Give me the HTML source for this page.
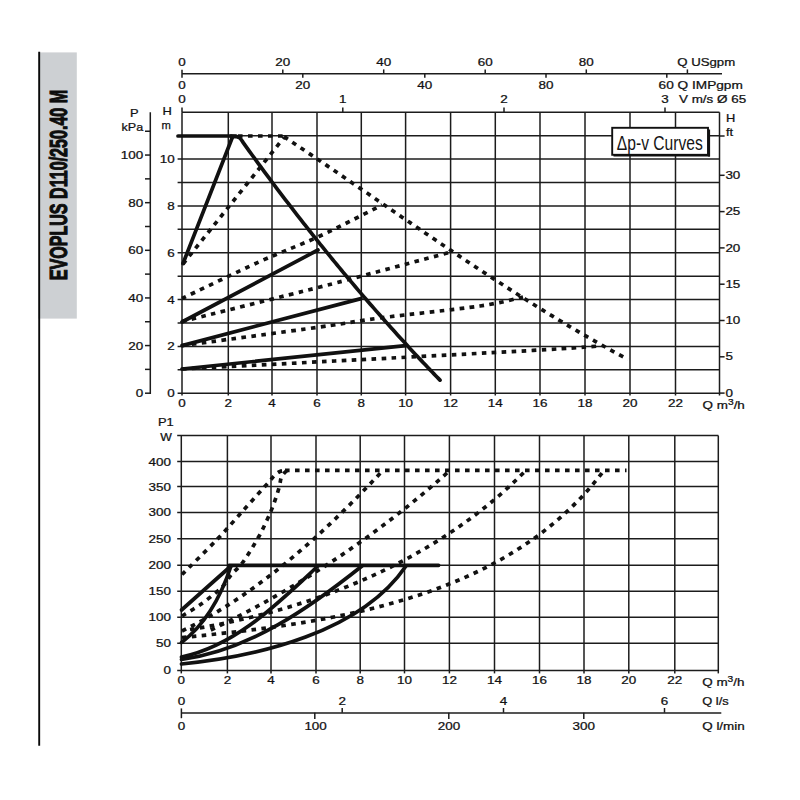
<!DOCTYPE html><html><head><meta charset="utf-8"><style>html,body{margin:0;padding:0;background:#fff;}svg{display:block;font-family:"Liberation Sans",sans-serif;}</style></head><body>
<svg width="800" height="800" viewBox="0 0 800 800">
<rect width="800" height="800" fill="#fff"/>
<rect x="38.2" y="52.4" width="38.6" height="266.2" fill="#cdd0d3"/>
<line x1="39.2" y1="51.8" x2="39.2" y2="745.8" stroke="#0a0a0a" stroke-width="1.9"/>
<text transform="translate(66.6,280.3) rotate(-90)" font-size="24.5" font-weight="bold" fill="#0d0d0d" stroke="#0d0d0d" stroke-width="1.1" textLength="190.5" lengthAdjust="spacingAndGlyphs">EVOPLUS D110/250.40 M</text>
<line x1="182" y1="73.7" x2="722" y2="73.7" stroke="#1c1c1c" stroke-width="1.5"/>
<line x1="182" y1="69.8" x2="182" y2="77.8" stroke="#1c1c1c" stroke-width="1.5"/>
<text transform="translate(182,65.6) scale(1.2,1)" text-anchor="middle" font-size="11.2" font-weight="normal" fill="#111" stroke="#111" stroke-width="0.25">0</text>
<line x1="282.8" y1="69.4" x2="282.8" y2="73.7" stroke="#1c1c1c" stroke-width="1.5"/>
<text transform="translate(282.8,65.6) scale(1.2,1)" text-anchor="middle" font-size="11.2" font-weight="normal" fill="#111" stroke="#111" stroke-width="0.25">20</text>
<line x1="383.7" y1="69.4" x2="383.7" y2="73.7" stroke="#1c1c1c" stroke-width="1.5"/>
<text transform="translate(383.7,65.6) scale(1.2,1)" text-anchor="middle" font-size="11.2" font-weight="normal" fill="#111" stroke="#111" stroke-width="0.25">40</text>
<line x1="485.2" y1="69.4" x2="485.2" y2="73.7" stroke="#1c1c1c" stroke-width="1.5"/>
<text transform="translate(485.2,65.6) scale(1.2,1)" text-anchor="middle" font-size="11.2" font-weight="normal" fill="#111" stroke="#111" stroke-width="0.25">60</text>
<line x1="586.3" y1="69.4" x2="586.3" y2="73.7" stroke="#1c1c1c" stroke-width="1.5"/>
<text transform="translate(586.3,65.6) scale(1.2,1)" text-anchor="middle" font-size="11.2" font-weight="normal" fill="#111" stroke="#111" stroke-width="0.25">80</text>
<line x1="687.4" y1="69.4" x2="687.4" y2="73.7" stroke="#1c1c1c" stroke-width="1.5"/>
<text transform="translate(677.2,65.9) scale(1.18,1)" text-anchor="start" font-size="11.2" font-weight="normal" fill="#111" stroke="#111" stroke-width="0.25">Q USgpm</text>
<text transform="translate(182,88.7) scale(1.2,1)" text-anchor="middle" font-size="11.2" font-weight="normal" fill="#111" stroke="#111" stroke-width="0.25">0</text>
<line x1="302.8" y1="73.7" x2="302.8" y2="77.8" stroke="#1c1c1c" stroke-width="1.5"/>
<text transform="translate(302.8,88.7) scale(1.2,1)" text-anchor="middle" font-size="11.2" font-weight="normal" fill="#111" stroke="#111" stroke-width="0.25">20</text>
<line x1="424.8" y1="73.7" x2="424.8" y2="77.8" stroke="#1c1c1c" stroke-width="1.5"/>
<text transform="translate(424.8,88.7) scale(1.2,1)" text-anchor="middle" font-size="11.2" font-weight="normal" fill="#111" stroke="#111" stroke-width="0.25">40</text>
<line x1="546" y1="73.7" x2="546" y2="77.8" stroke="#1c1c1c" stroke-width="1.5"/>
<text transform="translate(546,88.7) scale(1.2,1)" text-anchor="middle" font-size="11.2" font-weight="normal" fill="#111" stroke="#111" stroke-width="0.25">80</text>
<line x1="666.8" y1="73.7" x2="666.8" y2="77.8" stroke="#1c1c1c" stroke-width="1.5"/>
<text transform="translate(658.6,88.7) scale(1.22,1)" text-anchor="start" font-size="11.2" font-weight="normal" fill="#111" stroke="#111" stroke-width="0.25">60 Q IMPgpm</text>
<line x1="182" y1="107.6" x2="182" y2="112.2" stroke="#1c1c1c" stroke-width="1.5"/>
<text transform="translate(182,103.2) scale(1.2,1)" text-anchor="middle" font-size="11.2" font-weight="normal" fill="#111" stroke="#111" stroke-width="0.25">0</text>
<line x1="342.8" y1="107.6" x2="342.8" y2="112.2" stroke="#1c1c1c" stroke-width="1.5"/>
<text transform="translate(342.8,103.2) scale(1.2,1)" text-anchor="middle" font-size="11.2" font-weight="normal" fill="#111" stroke="#111" stroke-width="0.25">1</text>
<line x1="504" y1="107.6" x2="504" y2="112.2" stroke="#1c1c1c" stroke-width="1.5"/>
<text transform="translate(504,103.2) scale(1.2,1)" text-anchor="middle" font-size="11.2" font-weight="normal" fill="#111" stroke="#111" stroke-width="0.25">2</text>
<line x1="665" y1="107.6" x2="665" y2="112.2" stroke="#1c1c1c" stroke-width="1.5"/>
<text transform="translate(665,103.2) scale(1.2,1)" text-anchor="middle" font-size="11.2" font-weight="normal" fill="#111" stroke="#111" stroke-width="0.25">3</text>
<text transform="translate(679,103.2) scale(1.2,1)" text-anchor="start" font-size="11.2" font-weight="normal" fill="#111" stroke="#111" stroke-width="0.25">V m/s Ø 65</text>
<line x1="182" y1="112.3" x2="182" y2="395.6" stroke="#1c1c1c" stroke-width="1.5"/>
<line x1="228.3" y1="112.3" x2="228.3" y2="395.6" stroke="#1c1c1c" stroke-width="1.5"/>
<line x1="272" y1="112.3" x2="272" y2="395.6" stroke="#1c1c1c" stroke-width="1.5"/>
<line x1="317" y1="112.3" x2="317" y2="395.6" stroke="#1c1c1c" stroke-width="1.5"/>
<line x1="361.3" y1="112.3" x2="361.3" y2="395.6" stroke="#1c1c1c" stroke-width="1.5"/>
<line x1="405.6" y1="112.3" x2="405.6" y2="395.6" stroke="#1c1c1c" stroke-width="1.5"/>
<line x1="450.6" y1="112.3" x2="450.6" y2="395.6" stroke="#1c1c1c" stroke-width="1.5"/>
<line x1="495.3" y1="112.3" x2="495.3" y2="395.6" stroke="#1c1c1c" stroke-width="1.5"/>
<line x1="540" y1="112.3" x2="540" y2="395.6" stroke="#1c1c1c" stroke-width="1.5"/>
<line x1="585" y1="112.3" x2="585" y2="395.6" stroke="#1c1c1c" stroke-width="1.5"/>
<line x1="630" y1="112.3" x2="630" y2="395.6" stroke="#1c1c1c" stroke-width="1.5"/>
<line x1="675.5" y1="112.3" x2="675.5" y2="395.6" stroke="#1c1c1c" stroke-width="1.5"/>
<line x1="719.5" y1="112.3" x2="719.5" y2="395.6" stroke="#1c1c1c" stroke-width="1.5"/>
<line x1="177.6" y1="393.2" x2="719.5" y2="393.2" stroke="#1c1c1c" stroke-width="1.5"/>
<line x1="177.6" y1="369.79" x2="719.5" y2="369.79" stroke="#1c1c1c" stroke-width="1.5"/>
<line x1="177.6" y1="346.38" x2="719.5" y2="346.38" stroke="#1c1c1c" stroke-width="1.5"/>
<line x1="177.6" y1="322.98" x2="719.5" y2="322.98" stroke="#1c1c1c" stroke-width="1.5"/>
<line x1="177.6" y1="299.57" x2="719.5" y2="299.57" stroke="#1c1c1c" stroke-width="1.5"/>
<line x1="177.6" y1="276.16" x2="719.5" y2="276.16" stroke="#1c1c1c" stroke-width="1.5"/>
<line x1="177.6" y1="252.75" x2="719.5" y2="252.75" stroke="#1c1c1c" stroke-width="1.5"/>
<line x1="177.6" y1="229.34" x2="719.5" y2="229.34" stroke="#1c1c1c" stroke-width="1.5"/>
<line x1="177.6" y1="205.93" x2="719.5" y2="205.93" stroke="#1c1c1c" stroke-width="1.5"/>
<line x1="177.6" y1="182.53" x2="719.5" y2="182.53" stroke="#1c1c1c" stroke-width="1.5"/>
<line x1="177.6" y1="159.12" x2="719.5" y2="159.12" stroke="#1c1c1c" stroke-width="1.5"/>
<line x1="177.6" y1="135.71" x2="719.5" y2="135.71" stroke="#1c1c1c" stroke-width="1.5"/>
<line x1="182" y1="112.3" x2="719.5" y2="112.3" stroke="#1c1c1c" stroke-width="1.5"/>
<line x1="719.5" y1="393.1" x2="724.6" y2="393.1" stroke="#1c1c1c" stroke-width="1.5"/>
<text transform="translate(725.4,396.7) scale(1.2,1)" text-anchor="start" font-size="11.2" font-weight="normal" fill="#111" stroke="#111" stroke-width="0.25">0</text>
<line x1="719.5" y1="356.8" x2="724.6" y2="356.8" stroke="#1c1c1c" stroke-width="1.5"/>
<text transform="translate(725.4,360.4) scale(1.2,1)" text-anchor="start" font-size="11.2" font-weight="normal" fill="#111" stroke="#111" stroke-width="0.25">5</text>
<line x1="719.5" y1="320.5" x2="724.6" y2="320.5" stroke="#1c1c1c" stroke-width="1.5"/>
<text transform="translate(725.4,324.1) scale(1.2,1)" text-anchor="start" font-size="11.2" font-weight="normal" fill="#111" stroke="#111" stroke-width="0.25">10</text>
<line x1="719.5" y1="284.2" x2="724.6" y2="284.2" stroke="#1c1c1c" stroke-width="1.5"/>
<text transform="translate(725.4,287.8) scale(1.2,1)" text-anchor="start" font-size="11.2" font-weight="normal" fill="#111" stroke="#111" stroke-width="0.25">15</text>
<line x1="719.5" y1="247.9" x2="724.6" y2="247.9" stroke="#1c1c1c" stroke-width="1.5"/>
<text transform="translate(725.4,251.5) scale(1.2,1)" text-anchor="start" font-size="11.2" font-weight="normal" fill="#111" stroke="#111" stroke-width="0.25">20</text>
<line x1="719.5" y1="211.6" x2="724.6" y2="211.6" stroke="#1c1c1c" stroke-width="1.5"/>
<text transform="translate(725.4,215.2) scale(1.2,1)" text-anchor="start" font-size="11.2" font-weight="normal" fill="#111" stroke="#111" stroke-width="0.25">25</text>
<line x1="719.5" y1="175.3" x2="724.6" y2="175.3" stroke="#1c1c1c" stroke-width="1.5"/>
<text transform="translate(725.4,178.9) scale(1.2,1)" text-anchor="start" font-size="11.2" font-weight="normal" fill="#111" stroke="#111" stroke-width="0.25">30</text>
<line x1="719.5" y1="136" x2="724.6" y2="136" stroke="#1c1c1c" stroke-width="1.5"/>
<text transform="translate(726,121.6) scale(1.15,1)" text-anchor="start" font-size="11.2" font-weight="normal" fill="#111" stroke="#111" stroke-width="0.25">H</text>
<text transform="translate(726,135.8) scale(1.15,1)" text-anchor="start" font-size="11.2" font-weight="normal" fill="#111" stroke="#111" stroke-width="0.25">ft</text>
<text transform="translate(174.6,397.2) scale(1.2,1)" text-anchor="end" font-size="11.2" font-weight="normal" fill="#111" stroke="#111" stroke-width="0.25">0</text>
<text transform="translate(174.6,350.38) scale(1.2,1)" text-anchor="end" font-size="11.2" font-weight="normal" fill="#111" stroke="#111" stroke-width="0.25">2</text>
<text transform="translate(174.6,303.57) scale(1.2,1)" text-anchor="end" font-size="11.2" font-weight="normal" fill="#111" stroke="#111" stroke-width="0.25">4</text>
<text transform="translate(174.6,256.75) scale(1.2,1)" text-anchor="end" font-size="11.2" font-weight="normal" fill="#111" stroke="#111" stroke-width="0.25">6</text>
<text transform="translate(174.6,209.93) scale(1.2,1)" text-anchor="end" font-size="11.2" font-weight="normal" fill="#111" stroke="#111" stroke-width="0.25">8</text>
<text transform="translate(174.6,163.12) scale(1.2,1)" text-anchor="end" font-size="11.2" font-weight="normal" fill="#111" stroke="#111" stroke-width="0.25">10</text>
<text transform="translate(162.4,114.6) scale(1.15,1)" text-anchor="start" font-size="11.2" font-weight="normal" fill="#111" stroke="#111" stroke-width="0.25">H</text>
<text transform="translate(161.6,129.4) scale(1,1)" text-anchor="start" font-size="11.2" font-weight="normal" fill="#111" stroke="#111" stroke-width="0.25">m</text>
<line x1="150.3" y1="112.2" x2="150.3" y2="393.95" stroke="#1c1c1c" stroke-width="1.5"/>
<line x1="145" y1="393.2" x2="150.3" y2="393.2" stroke="#1c1c1c" stroke-width="1.5"/>
<text transform="translate(143.2,397.2) scale(1.2,1)" text-anchor="end" font-size="11.2" font-weight="normal" fill="#111" stroke="#111" stroke-width="0.25">0</text>
<line x1="145" y1="369.38" x2="150.3" y2="369.38" stroke="#1c1c1c" stroke-width="1.5"/>
<line x1="145" y1="345.57" x2="150.3" y2="345.57" stroke="#1c1c1c" stroke-width="1.5"/>
<text transform="translate(143.2,349.57) scale(1.2,1)" text-anchor="end" font-size="11.2" font-weight="normal" fill="#111" stroke="#111" stroke-width="0.25">20</text>
<line x1="145" y1="321.75" x2="150.3" y2="321.75" stroke="#1c1c1c" stroke-width="1.5"/>
<line x1="145" y1="297.94" x2="150.3" y2="297.94" stroke="#1c1c1c" stroke-width="1.5"/>
<text transform="translate(143.2,301.94) scale(1.2,1)" text-anchor="end" font-size="11.2" font-weight="normal" fill="#111" stroke="#111" stroke-width="0.25">40</text>
<line x1="145" y1="274.12" x2="150.3" y2="274.12" stroke="#1c1c1c" stroke-width="1.5"/>
<line x1="145" y1="250.31" x2="150.3" y2="250.31" stroke="#1c1c1c" stroke-width="1.5"/>
<text transform="translate(143.2,254.31) scale(1.2,1)" text-anchor="end" font-size="11.2" font-weight="normal" fill="#111" stroke="#111" stroke-width="0.25">60</text>
<line x1="145" y1="226.5" x2="150.3" y2="226.5" stroke="#1c1c1c" stroke-width="1.5"/>
<line x1="145" y1="202.68" x2="150.3" y2="202.68" stroke="#1c1c1c" stroke-width="1.5"/>
<text transform="translate(143.2,206.68) scale(1.2,1)" text-anchor="end" font-size="11.2" font-weight="normal" fill="#111" stroke="#111" stroke-width="0.25">80</text>
<line x1="145" y1="178.86" x2="150.3" y2="178.86" stroke="#1c1c1c" stroke-width="1.5"/>
<line x1="145" y1="155.05" x2="150.3" y2="155.05" stroke="#1c1c1c" stroke-width="1.5"/>
<text transform="translate(143.2,159.05) scale(1.2,1)" text-anchor="end" font-size="11.2" font-weight="normal" fill="#111" stroke="#111" stroke-width="0.25">100</text>
<line x1="145" y1="131.24" x2="150.3" y2="131.24" stroke="#1c1c1c" stroke-width="1.5"/>
<text transform="translate(134.2,117) scale(1.15,1)" text-anchor="middle" font-size="11.2" font-weight="normal" fill="#111" stroke="#111" stroke-width="0.25">P</text>
<text transform="translate(121.6,131.4) scale(1.12,1)" text-anchor="start" font-size="11.2" font-weight="normal" fill="#111" stroke="#111" stroke-width="0.25">kPa</text>
<text transform="translate(182,407.1) scale(1.2,1)" text-anchor="middle" font-size="11.2" font-weight="normal" fill="#111" stroke="#111" stroke-width="0.25">0</text>
<text transform="translate(228.3,407.1) scale(1.2,1)" text-anchor="middle" font-size="11.2" font-weight="normal" fill="#111" stroke="#111" stroke-width="0.25">2</text>
<text transform="translate(272,407.1) scale(1.2,1)" text-anchor="middle" font-size="11.2" font-weight="normal" fill="#111" stroke="#111" stroke-width="0.25">4</text>
<text transform="translate(317,407.1) scale(1.2,1)" text-anchor="middle" font-size="11.2" font-weight="normal" fill="#111" stroke="#111" stroke-width="0.25">6</text>
<text transform="translate(361.3,407.1) scale(1.2,1)" text-anchor="middle" font-size="11.2" font-weight="normal" fill="#111" stroke="#111" stroke-width="0.25">8</text>
<text transform="translate(405.6,407.1) scale(1.2,1)" text-anchor="middle" font-size="11.2" font-weight="normal" fill="#111" stroke="#111" stroke-width="0.25">10</text>
<text transform="translate(450.6,407.1) scale(1.2,1)" text-anchor="middle" font-size="11.2" font-weight="normal" fill="#111" stroke="#111" stroke-width="0.25">12</text>
<text transform="translate(495.3,407.1) scale(1.2,1)" text-anchor="middle" font-size="11.2" font-weight="normal" fill="#111" stroke="#111" stroke-width="0.25">14</text>
<text transform="translate(540,407.1) scale(1.2,1)" text-anchor="middle" font-size="11.2" font-weight="normal" fill="#111" stroke="#111" stroke-width="0.25">16</text>
<text transform="translate(585,407.1) scale(1.2,1)" text-anchor="middle" font-size="11.2" font-weight="normal" fill="#111" stroke="#111" stroke-width="0.25">18</text>
<text transform="translate(630,407.1) scale(1.2,1)" text-anchor="middle" font-size="11.2" font-weight="normal" fill="#111" stroke="#111" stroke-width="0.25">20</text>
<text transform="translate(675.5,407.1) scale(1.2,1)" text-anchor="middle" font-size="11.2" font-weight="normal" fill="#111" stroke="#111" stroke-width="0.25">22</text>
<g>
<text transform="translate(702.6,408.6) scale(1.2,1)" text-anchor="start" font-size="11.2" font-weight="normal" fill="#111" stroke="#111" stroke-width="0.25">Q m<tspan font-size="8.5" dy="-4">3</tspan><tspan dy="4">/h</tspan></text>
</g>
<path d="M178,136 L236,136" fill="none" stroke="#111" stroke-width="3.7" stroke-linecap="round" stroke-linejoin="round"/>
<path d="M183,263.5 L232.5,137" fill="none" stroke="#111" stroke-width="3.7" stroke-linecap="round" stroke-linejoin="round"/>
<path d="M231,136.2 C232,136.3 235.5,136.48 237,136.8 C238.5,137.12 238.99,137.21 240,138.14 C241.01,139.07 242.02,140.97 243.03,142.38 C244.04,143.79 245.05,145.2 246.06,146.6 C247.07,148 248.08,149.4 249.09,150.8 C250.1,152.2 251.11,153.59 252.12,154.98 C253.13,156.37 254.14,157.76 255.15,159.14 C256.16,160.53 257.17,161.91 258.18,163.29 C259.19,164.67 260.2,166.04 261.21,167.42 C262.22,168.79 263.23,170.16 264.24,171.53 C265.25,172.89 266.26,174.26 267.27,175.62 C268.28,176.98 269.29,178.33 270.3,179.69 C271.31,181.04 272.32,182.39 273.33,183.74 C274.34,185.09 275.35,186.44 276.36,187.78 C277.37,189.12 278.38,190.46 279.39,191.8 C280.4,193.13 281.41,194.47 282.42,195.8 C283.43,197.13 284.44,198.45 285.45,199.78 C286.46,201.1 287.47,202.42 288.48,203.74 C289.49,205.06 290.51,206.38 291.52,207.69 C292.53,209 293.54,210.31 294.55,211.62 C295.56,212.92 296.57,214.23 297.58,215.53 C298.59,216.83 299.6,218.13 300.61,219.42 C301.62,220.72 302.63,222.01 303.64,223.3 C304.65,224.58 305.66,225.87 306.67,227.15 C307.68,228.44 308.69,229.72 309.7,230.99 C310.71,232.27 311.72,233.54 312.73,234.82 C313.74,236.09 314.75,237.36 315.76,238.62 C316.77,239.89 317.78,241.15 318.79,242.41 C319.8,243.67 320.81,244.92 321.82,246.18 C322.83,247.43 323.84,248.68 324.85,249.93 C325.86,251.18 326.87,252.42 327.88,253.67 C328.89,254.91 329.9,256.15 330.91,257.38 C331.92,258.62 332.93,259.85 333.94,261.09 C334.95,262.32 335.96,263.54 336.97,264.77 C337.98,265.99 338.99,267.22 340,268.44 C341.01,269.65 342.02,270.87 343.03,272.08 C344.04,273.3 345.05,274.51 346.06,275.72 C347.07,276.93 348.08,278.13 349.09,279.33 C350.1,280.53 351.11,281.73 352.12,282.93 C353.13,284.13 354.14,285.32 355.15,286.51 C356.16,287.7 357.17,288.89 358.18,290.08 C359.19,291.26 360.2,292.45 361.21,293.63 C362.22,294.81 363.23,295.98 364.24,297.16 C365.25,298.33 366.26,299.5 367.27,300.67 C368.28,301.84 369.29,303.01 370.3,304.17 C371.31,305.33 372.32,306.49 373.33,307.65 C374.34,308.81 375.35,309.96 376.36,311.11 C377.37,312.27 378.38,313.42 379.39,314.56 C380.4,315.71 381.41,316.85 382.42,317.99 C383.43,319.13 384.44,320.27 385.45,321.41 C386.46,322.54 387.47,323.68 388.48,324.81 C389.49,325.94 390.51,327.06 391.52,328.19 C392.53,329.31 393.54,330.44 394.55,331.55 C395.56,332.67 396.57,333.79 397.58,334.9 C398.59,336.02 399.6,337.13 400.61,338.24 C401.62,339.35 402.63,340.45 403.64,341.55 C404.65,342.66 405.66,343.76 406.67,344.86 C407.68,345.95 408.69,347.05 409.7,348.14 C410.71,349.23 411.72,350.32 412.73,351.41 C413.74,352.5 414.75,353.58 415.76,354.66 C416.77,355.74 417.78,356.82 418.79,357.9 C419.8,358.98 420.81,360.05 421.82,361.12 C422.83,362.19 423.84,363.26 424.85,364.33 C425.86,365.39 426.87,366.45 427.88,367.52 C428.89,368.58 429.9,369.63 430.91,370.69 C431.92,371.74 432.93,372.8 433.94,373.85 C434.95,374.9 435.96,375.94 436.97,376.99 C437.98,378.03 439.49,379.59 440,380.12" fill="none" stroke="#111" stroke-width="3.7" stroke-linecap="round" stroke-linejoin="round"/>
<path d="M182,322 L318,250" fill="none" stroke="#111" stroke-width="3.7" stroke-linecap="round" stroke-linejoin="round"/>
<path d="M182,345.6 L361,298.6" fill="none" stroke="#111" stroke-width="3.7" stroke-linecap="round" stroke-linejoin="round"/>
<path d="M182,369 L405.6,345.6" fill="none" stroke="#111" stroke-width="3.7" stroke-linecap="round" stroke-linejoin="round"/>
<path d="M183,264 L284,137.5" fill="none" stroke="#111" stroke-width="3.7" stroke-linecap="butt" stroke-linejoin="round" stroke-dasharray="4.6 5.4"/>
<path d="M238,136 L284,136" fill="none" stroke="#111" stroke-width="3.7" stroke-linecap="butt" stroke-linejoin="round" stroke-dasharray="4.6 5.4"/>
<path d="M284,136.61 C284.5,136.95 286.01,137.95 287.02,138.63 C288.02,139.3 289.03,139.97 290.04,140.64 C291.04,141.32 292.05,141.99 293.05,142.67 C294.06,143.34 295.06,144.02 296.07,144.69 C297.08,145.37 298.08,146.04 299.09,146.72 C300.09,147.4 301.1,148.08 302.11,148.75 C303.11,149.43 304.12,150.11 305.12,150.79 C306.13,151.47 307.13,152.15 308.14,152.83 C309.15,153.51 310.15,154.19 311.16,154.87 C312.16,155.55 313.17,156.24 314.18,156.92 C315.18,157.6 316.19,158.28 317.19,158.97 C318.2,159.65 319.2,160.33 320.21,161.02 C321.22,161.7 322.22,162.39 323.23,163.07 C324.23,163.76 325.24,164.44 326.25,165.13 C327.25,165.81 328.26,166.5 329.26,167.18 C330.27,167.87 331.27,168.56 332.28,169.24 C333.29,169.93 334.29,170.62 335.3,171.31 C336.3,171.99 337.31,172.68 338.32,173.37 C339.32,174.06 340.33,174.75 341.33,175.44 C342.34,176.13 343.35,176.81 344.35,177.5 C345.36,178.19 346.36,178.88 347.37,179.57 C348.37,180.26 349.38,180.95 350.39,181.64 C351.39,182.33 352.4,183.02 353.4,183.71 C354.41,184.4 355.42,185.1 356.42,185.79 C357.43,186.48 358.43,187.17 359.44,187.86 C360.44,188.55 361.45,189.24 362.46,189.93 C363.46,190.62 364.47,191.32 365.47,192.01 C366.48,192.7 367.49,193.39 368.49,194.08 C369.5,194.77 370.5,195.47 371.51,196.16 C372.51,196.85 373.52,197.54 374.53,198.23 C375.53,198.93 376.54,199.62 377.54,200.31 C378.55,201 379.56,201.69 380.56,202.39 C381.57,203.08 382.57,203.77 383.58,204.46 C384.58,205.15 385.59,205.84 386.6,206.54 C387.6,207.23 388.61,207.92 389.61,208.61 C390.62,209.3 391.63,209.99 392.63,210.68 C393.64,211.38 394.64,212.07 395.65,212.76 C396.65,213.45 397.66,214.14 398.67,214.83 C399.67,215.52 400.68,216.21 401.68,216.9 C402.69,217.59 403.7,218.28 404.7,218.97 C405.71,219.66 406.71,220.35 407.72,221.04 C408.73,221.73 409.73,222.42 410.74,223.11 C411.74,223.8 412.75,224.49 413.75,225.17 C414.76,225.86 415.77,226.55 416.77,227.24 C417.78,227.93 418.78,228.61 419.79,229.3 C420.8,229.99 421.8,230.68 422.81,231.36 C423.81,232.05 424.82,232.73 425.82,233.42 C426.83,234.11 427.84,234.79 428.84,235.48 C429.85,236.16 430.85,236.85 431.86,237.53 C432.87,238.21 433.87,238.9 434.88,239.58 C435.88,240.27 436.89,240.95 437.89,241.63 C438.9,242.31 439.91,242.99 440.91,243.68 C441.92,244.36 442.92,245.04 443.93,245.72 C444.94,246.4 445.94,247.08 446.95,247.76 C447.95,248.44 448.96,249.12 449.96,249.8 C450.97,250.47 451.98,251.15 452.98,251.83 C453.99,252.51 454.99,253.18 456,253.86 C457.01,254.54 458.01,255.21 459.02,255.89 C460.02,256.56 461.03,257.23 462.04,257.91 C463.04,258.58 464.05,259.25 465.05,259.93 C466.06,260.6 467.06,261.27 468.07,261.94 C469.08,262.61 470.08,263.28 471.09,263.95 C472.09,264.62 473.1,265.29 474.11,265.96 C475.11,266.63 476.12,267.29 477.12,267.96 C478.13,268.63 479.13,269.29 480.14,269.96 C481.15,270.62 482.15,271.29 483.16,271.95 C484.16,272.61 485.17,273.28 486.18,273.94 C487.18,274.6 488.19,275.26 489.19,275.92 C490.2,276.58 491.2,277.24 492.21,277.9 C493.22,278.56 494.22,279.22 495.23,279.87 C496.23,280.53 497.24,281.18 498.25,281.84 C499.25,282.49 500.26,283.15 501.26,283.8 C502.27,284.45 503.27,285.11 504.28,285.76 C505.29,286.41 506.29,287.06 507.3,287.71 C508.3,288.36 509.31,289 510.32,289.65 C511.32,290.3 512.33,290.95 513.33,291.59 C514.34,292.24 515.35,292.88 516.35,293.52 C517.36,294.17 518.36,294.81 519.37,295.45 C520.37,296.09 521.38,296.73 522.39,297.37 C523.39,298.01 524.4,298.64 525.4,299.28 C526.41,299.92 527.42,300.55 528.42,301.19 C529.43,301.82 530.43,302.45 531.44,303.09 C532.44,303.72 533.45,304.35 534.46,304.98 C535.46,305.61 536.47,306.24 537.47,306.86 C538.48,307.49 539.49,308.12 540.49,308.74 C541.5,309.37 542.5,309.99 543.51,310.61 C544.51,311.23 545.52,311.85 546.53,312.47 C547.53,313.09 548.54,313.71 549.54,314.33 C550.55,314.95 551.56,315.56 552.56,316.18 C553.57,316.79 554.57,317.4 555.58,318.02 C556.58,318.63 557.59,319.24 558.6,319.85 C559.6,320.46 560.61,321.06 561.61,321.67 C562.62,322.28 563.63,322.88 564.63,323.49 C565.64,324.09 566.64,324.69 567.65,325.29 C568.65,325.89 569.66,326.49 570.67,327.09 C571.67,327.69 572.68,328.28 573.68,328.88 C574.69,329.47 575.7,330.07 576.7,330.66 C577.71,331.25 578.71,331.84 579.72,332.43 C580.73,333.02 581.73,333.61 582.74,334.19 C583.74,334.78 584.75,335.36 585.75,335.94 C586.76,336.53 587.77,337.11 588.77,337.69 C589.78,338.27 590.78,338.84 591.79,339.42 C592.8,340 593.8,340.57 594.81,341.14 C595.81,341.72 596.82,342.29 597.82,342.86 C598.83,343.43 599.84,344 600.84,344.56 C601.85,345.13 602.85,345.69 603.86,346.25 C604.87,346.82 605.87,347.38 606.88,347.94 C607.88,348.5 608.89,349.06 609.89,349.61 C610.9,350.17 611.91,350.72 612.91,351.27 C613.92,351.83 614.92,352.38 615.93,352.93 C616.94,353.47 617.94,354.02 618.95,354.57 C619.95,355.11 620.96,355.66 621.96,356.2 C622.97,356.74 623.98,357.28 624.98,357.82 C625.99,358.35 627.5,359.16 628,359.42" fill="none" stroke="#111" stroke-width="3.7" stroke-linecap="butt" stroke-linejoin="round" stroke-dasharray="4.6 5.4"/>
<path d="M182,298.5 C195,292.33 237,271.92 260,261.5 C283,251.08 299.67,245.42 320,236 C340.33,226.58 371.67,210.17 382,205" fill="none" stroke="#111" stroke-width="3.7" stroke-linecap="butt" stroke-linejoin="round" stroke-dasharray="4.6 5.4"/>
<path d="M182,321.5 C205,315.75 286.33,295.58 320,287 C353.67,278.42 362.17,275.83 384,270 C405.83,264.17 439.83,255 451,252" fill="none" stroke="#111" stroke-width="3.7" stroke-linecap="butt" stroke-linejoin="round" stroke-dasharray="4.6 5.4"/>
<path d="M182,345.6 C205,342.5 287,331.6 320,327 C353,322.4 353.33,321.5 380,318 C406.67,314.5 456.17,309.5 480,306 C503.83,302.5 515.83,298.5 523,297" fill="none" stroke="#111" stroke-width="3.7" stroke-linecap="butt" stroke-linejoin="round" stroke-dasharray="4.6 5.4"/>
<path d="M182,369 C207.5,367.67 276.5,364.1 335,361 C393.5,357.9 488.83,352.9 533,350.4 C577.17,347.9 588.83,346.73 600,346" fill="none" stroke="#111" stroke-width="3.7" stroke-linecap="butt" stroke-linejoin="round" stroke-dasharray="4.6 5.4"/>
<rect x="612.2" y="127.8" width="95.8" height="27" fill="#fff" stroke="#111" stroke-width="1.9"/>
<line x1="709" y1="129.5" x2="709" y2="156.5" stroke="#111" stroke-width="2.2"/>
<line x1="613.5" y1="155.7" x2="710" y2="155.7" stroke="#111" stroke-width="1.8"/>
<text transform="translate(616.8,150.0)" font-size="19.4" fill="#151515" textLength="86" lengthAdjust="spacingAndGlyphs">Δp-v Curves</text>
<line x1="181.3" y1="435.6" x2="181.3" y2="673.4" stroke="#1c1c1c" stroke-width="1.5"/>
<line x1="227.4" y1="435.6" x2="227.4" y2="673.4" stroke="#1c1c1c" stroke-width="1.5"/>
<line x1="271" y1="435.6" x2="271" y2="673.4" stroke="#1c1c1c" stroke-width="1.5"/>
<line x1="316" y1="435.6" x2="316" y2="673.4" stroke="#1c1c1c" stroke-width="1.5"/>
<line x1="360.2" y1="435.6" x2="360.2" y2="673.4" stroke="#1c1c1c" stroke-width="1.5"/>
<line x1="404.5" y1="435.6" x2="404.5" y2="673.4" stroke="#1c1c1c" stroke-width="1.5"/>
<line x1="449.4" y1="435.6" x2="449.4" y2="673.4" stroke="#1c1c1c" stroke-width="1.5"/>
<line x1="494.5" y1="435.6" x2="494.5" y2="673.4" stroke="#1c1c1c" stroke-width="1.5"/>
<line x1="539.5" y1="435.6" x2="539.5" y2="673.4" stroke="#1c1c1c" stroke-width="1.5"/>
<line x1="584" y1="435.6" x2="584" y2="673.4" stroke="#1c1c1c" stroke-width="1.5"/>
<line x1="628.8" y1="435.6" x2="628.8" y2="673.4" stroke="#1c1c1c" stroke-width="1.5"/>
<line x1="674.8" y1="435.6" x2="674.8" y2="673.4" stroke="#1c1c1c" stroke-width="1.5"/>
<line x1="718.3" y1="435.6" x2="718.3" y2="673.4" stroke="#1c1c1c" stroke-width="1.5"/>
<line x1="177.2" y1="670.4" x2="718.4" y2="670.4" stroke="#1c1c1c" stroke-width="1.5"/>
<text transform="translate(171,674.4) scale(1.2,1)" text-anchor="end" font-size="11.2" font-weight="normal" fill="#111" stroke="#111" stroke-width="0.25">0</text>
<line x1="177.2" y1="643.3" x2="718.4" y2="643.3" stroke="#1c1c1c" stroke-width="1.5"/>
<text transform="translate(171,647.3) scale(1.2,1)" text-anchor="end" font-size="11.2" font-weight="normal" fill="#111" stroke="#111" stroke-width="0.25">50</text>
<line x1="177.2" y1="617.3" x2="718.4" y2="617.3" stroke="#1c1c1c" stroke-width="1.5"/>
<text transform="translate(171,621.3) scale(1.2,1)" text-anchor="end" font-size="11.2" font-weight="normal" fill="#111" stroke="#111" stroke-width="0.25">100</text>
<line x1="177.2" y1="591.3" x2="718.4" y2="591.3" stroke="#1c1c1c" stroke-width="1.5"/>
<text transform="translate(171,595.3) scale(1.2,1)" text-anchor="end" font-size="11.2" font-weight="normal" fill="#111" stroke="#111" stroke-width="0.25">150</text>
<line x1="177.2" y1="565.3" x2="718.4" y2="565.3" stroke="#1c1c1c" stroke-width="1.5"/>
<text transform="translate(171,569.3) scale(1.2,1)" text-anchor="end" font-size="11.2" font-weight="normal" fill="#111" stroke="#111" stroke-width="0.25">200</text>
<line x1="177.2" y1="538.75" x2="718.4" y2="538.75" stroke="#1c1c1c" stroke-width="1.5"/>
<text transform="translate(171,542.75) scale(1.2,1)" text-anchor="end" font-size="11.2" font-weight="normal" fill="#111" stroke="#111" stroke-width="0.25">250</text>
<line x1="177.2" y1="512.4" x2="718.4" y2="512.4" stroke="#1c1c1c" stroke-width="1.5"/>
<text transform="translate(171,516.4) scale(1.2,1)" text-anchor="end" font-size="11.2" font-weight="normal" fill="#111" stroke="#111" stroke-width="0.25">300</text>
<line x1="177.2" y1="486.5" x2="718.4" y2="486.5" stroke="#1c1c1c" stroke-width="1.5"/>
<text transform="translate(171,490.5) scale(1.2,1)" text-anchor="end" font-size="11.2" font-weight="normal" fill="#111" stroke="#111" stroke-width="0.25">350</text>
<line x1="177.2" y1="461.5" x2="718.4" y2="461.5" stroke="#1c1c1c" stroke-width="1.5"/>
<text transform="translate(171,465.5) scale(1.2,1)" text-anchor="end" font-size="11.2" font-weight="normal" fill="#111" stroke="#111" stroke-width="0.25">400</text>
<line x1="177.2" y1="435.6" x2="718.4" y2="435.6" stroke="#1c1c1c" stroke-width="1.5"/>
<text transform="translate(158,426) scale(1.15,1)" text-anchor="start" font-size="11.2" font-weight="normal" fill="#111" stroke="#111" stroke-width="0.25">P1</text>
<text transform="translate(160.2,441) scale(1.1,1)" text-anchor="start" font-size="11.2" font-weight="normal" fill="#111" stroke="#111" stroke-width="0.25">W</text>
<text transform="translate(181.3,684.2) scale(1.2,1)" text-anchor="middle" font-size="11.2" font-weight="normal" fill="#111" stroke="#111" stroke-width="0.25">0</text>
<text transform="translate(227.4,684.2) scale(1.2,1)" text-anchor="middle" font-size="11.2" font-weight="normal" fill="#111" stroke="#111" stroke-width="0.25">2</text>
<text transform="translate(271,684.2) scale(1.2,1)" text-anchor="middle" font-size="11.2" font-weight="normal" fill="#111" stroke="#111" stroke-width="0.25">4</text>
<text transform="translate(316,684.2) scale(1.2,1)" text-anchor="middle" font-size="11.2" font-weight="normal" fill="#111" stroke="#111" stroke-width="0.25">6</text>
<text transform="translate(360.2,684.2) scale(1.2,1)" text-anchor="middle" font-size="11.2" font-weight="normal" fill="#111" stroke="#111" stroke-width="0.25">8</text>
<text transform="translate(404.5,684.2) scale(1.2,1)" text-anchor="middle" font-size="11.2" font-weight="normal" fill="#111" stroke="#111" stroke-width="0.25">10</text>
<text transform="translate(449.4,684.2) scale(1.2,1)" text-anchor="middle" font-size="11.2" font-weight="normal" fill="#111" stroke="#111" stroke-width="0.25">12</text>
<text transform="translate(494.5,684.2) scale(1.2,1)" text-anchor="middle" font-size="11.2" font-weight="normal" fill="#111" stroke="#111" stroke-width="0.25">14</text>
<text transform="translate(539.5,684.2) scale(1.2,1)" text-anchor="middle" font-size="11.2" font-weight="normal" fill="#111" stroke="#111" stroke-width="0.25">16</text>
<text transform="translate(584,684.2) scale(1.2,1)" text-anchor="middle" font-size="11.2" font-weight="normal" fill="#111" stroke="#111" stroke-width="0.25">18</text>
<text transform="translate(628.8,684.2) scale(1.2,1)" text-anchor="middle" font-size="11.2" font-weight="normal" fill="#111" stroke="#111" stroke-width="0.25">20</text>
<text transform="translate(674.8,684.2) scale(1.2,1)" text-anchor="middle" font-size="11.2" font-weight="normal" fill="#111" stroke="#111" stroke-width="0.25">22</text>
<text transform="translate(702.2,685.6) scale(1.2,1)" text-anchor="start" font-size="11.2" font-weight="normal" fill="#111" stroke="#111" stroke-width="0.25">Q m<tspan font-size="8.5" dy="-4">3</tspan><tspan dy="4">/h</tspan></text>
<line x1="181.4" y1="713" x2="721.3" y2="713" stroke="#1c1c1c" stroke-width="1.5"/>
<line x1="181.4" y1="708.4" x2="181.4" y2="718.2" stroke="#1c1c1c" stroke-width="1.5"/>
<line x1="342.2" y1="708" x2="342.2" y2="712.7" stroke="#1c1c1c" stroke-width="1.5"/>
<line x1="503.5" y1="708" x2="503.5" y2="712.7" stroke="#1c1c1c" stroke-width="1.5"/>
<line x1="664.5" y1="708" x2="664.5" y2="712.7" stroke="#1c1c1c" stroke-width="1.5"/>
<text transform="translate(181.4,705.3) scale(1.2,1)" text-anchor="middle" font-size="11.2" font-weight="normal" fill="#111" stroke="#111" stroke-width="0.25">0</text>
<text transform="translate(342.2,705.3) scale(1.2,1)" text-anchor="middle" font-size="11.2" font-weight="normal" fill="#111" stroke="#111" stroke-width="0.25">2</text>
<text transform="translate(503.5,705.3) scale(1.2,1)" text-anchor="middle" font-size="11.2" font-weight="normal" fill="#111" stroke="#111" stroke-width="0.25">4</text>
<text transform="translate(664.5,705.3) scale(1.2,1)" text-anchor="middle" font-size="11.2" font-weight="normal" fill="#111" stroke="#111" stroke-width="0.25">6</text>
<text transform="translate(702.2,705.3) scale(1.15,1)" text-anchor="start" font-size="11.2" font-weight="normal" fill="#111" stroke="#111" stroke-width="0.25">Q l/s</text>
<line x1="314.8" y1="712.7" x2="314.8" y2="719" stroke="#1c1c1c" stroke-width="1.5"/>
<line x1="448.8" y1="712.7" x2="448.8" y2="719" stroke="#1c1c1c" stroke-width="1.5"/>
<line x1="583.8" y1="712.7" x2="583.8" y2="719" stroke="#1c1c1c" stroke-width="1.5"/>
<text transform="translate(181.4,729.6) scale(1.2,1)" text-anchor="middle" font-size="11.2" font-weight="normal" fill="#111" stroke="#111" stroke-width="0.25">0</text>
<text transform="translate(315.6,729.6) scale(1.2,1)" text-anchor="middle" font-size="11.2" font-weight="normal" fill="#111" stroke="#111" stroke-width="0.25">100</text>
<text transform="translate(449,729.6) scale(1.2,1)" text-anchor="middle" font-size="11.2" font-weight="normal" fill="#111" stroke="#111" stroke-width="0.25">200</text>
<text transform="translate(583.8,729.6) scale(1.2,1)" text-anchor="middle" font-size="11.2" font-weight="normal" fill="#111" stroke="#111" stroke-width="0.25">300</text>
<text transform="translate(702.2,729.6) scale(1.2,1)" text-anchor="start" font-size="11.2" font-weight="normal" fill="#111" stroke="#111" stroke-width="0.25">Q l/min</text>
<path d="M229,565.3 L438.6,565.3" fill="none" stroke="#111" stroke-width="3.7" stroke-linecap="round" stroke-linejoin="round"/>
<path d="M181.5,610 L231,566" fill="none" stroke="#111" stroke-width="3.7" stroke-linecap="round" stroke-linejoin="round"/>
<path d="M181.5,642.5 C205.94,624.01 221.67,594.47 231,566" fill="none" stroke="#111" stroke-width="3.7" stroke-linecap="round" stroke-linejoin="round"/>
<path d="M181.5,657 C236.29,645.59 278.91,602.44 318,566" fill="none" stroke="#111" stroke-width="3.7" stroke-linecap="round" stroke-linejoin="round"/>
<path d="M181.5,659.5 C249.73,650.39 309.69,607.66 362,566" fill="none" stroke="#111" stroke-width="3.7" stroke-linecap="round" stroke-linejoin="round"/>
<path d="M181.5,664 C258.24,656.45 360.73,632.49 406,566" fill="none" stroke="#111" stroke-width="3.7" stroke-linecap="round" stroke-linejoin="round"/>
<path d="M182,574.5 C187.83,568.67 206.5,550.5 217,539.5 C227.5,528.5 236.5,517.92 245,508.5 C253.5,499.08 263.17,488.42 268,483 C272.83,477.58 272,477.92 274,476 C276,474.08 277.83,472.45 280,471.5 C282.17,470.55 285.83,470.5 287,470.3" fill="none" stroke="#111" stroke-width="3.7" stroke-linecap="butt" stroke-linejoin="round" stroke-dasharray="4.6 5.4"/>
<path d="M285,470.3 L626.5,470.3" fill="none" stroke="#111" stroke-width="3.7" stroke-linecap="butt" stroke-linejoin="round" stroke-dasharray="4.6 5.4"/>
<path d="M182,616 C185.08,614.08 194.83,608.42 200.5,604.5 C206.17,600.58 212.08,595.75 216,592.5 C219.92,589.25 221.5,587.92 224,585 C226.5,582.08 227.83,578.83 231,575 C234.17,571.17 238.5,568.17 243,562 C247.5,555.83 254,545 258,538 C262,531 264.5,525.33 267,520 C269.5,514.67 271,511.33 273,506 C275,500.67 277.58,492.83 279,488 C280.42,483.17 280.17,479.95 281.5,477 C282.83,474.05 286.08,471.42 287,470.3" fill="none" stroke="#111" stroke-width="3.7" stroke-linecap="butt" stroke-linejoin="round" stroke-dasharray="4.6 5.4"/>
<path d="M182,631 C259.64,592.9 324.34,532.94 383,470.3" fill="none" stroke="#111" stroke-width="3.7" stroke-linecap="butt" stroke-linejoin="round" stroke-dasharray="4.6 5.4"/>
<path d="M210.75,630 C297.22,588.96 378.95,534.26 450,470.3" fill="none" stroke="#111" stroke-width="3.7" stroke-linecap="butt" stroke-linejoin="round" stroke-dasharray="4.6 5.4"/>
<path d="M190,629.5 C313.4,609.77 437.17,560.81 526,470.3" fill="none" stroke="#111" stroke-width="3.7" stroke-linecap="butt" stroke-linejoin="round" stroke-dasharray="4.6 5.4"/>
<path d="M182,637.5 C331.6,622.93 507.12,599.96 604,470.3" fill="none" stroke="#111" stroke-width="3.7" stroke-linecap="butt" stroke-linejoin="round" stroke-dasharray="4.6 5.4"/>
</svg></body></html>
